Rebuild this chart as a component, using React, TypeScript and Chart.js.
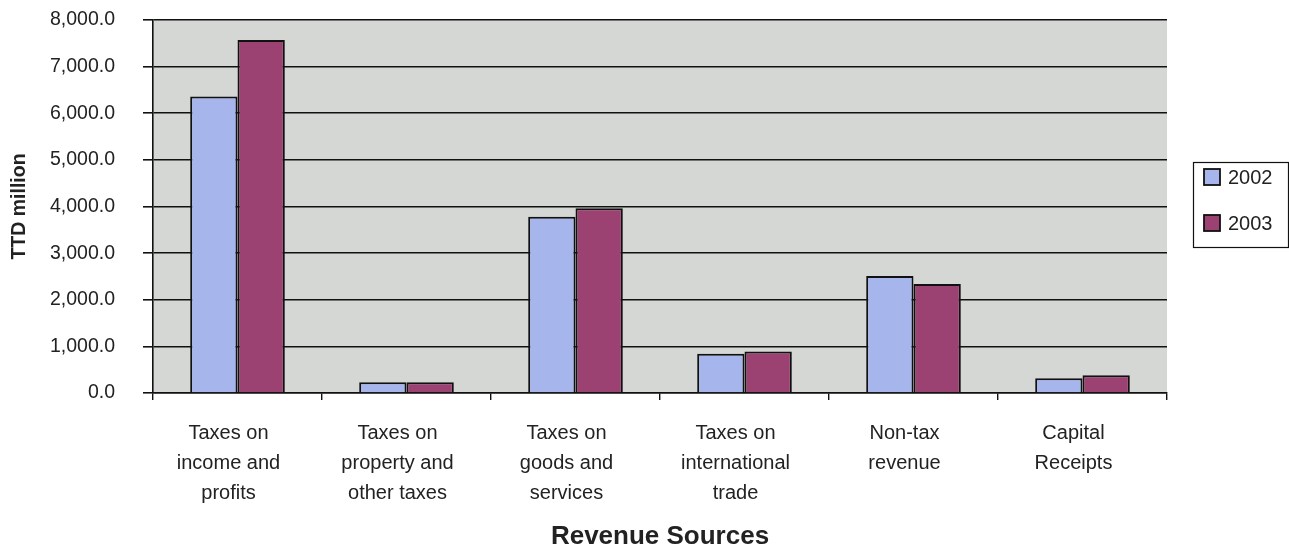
import React, { useEffect, useRef } from "react";
import { Chart, registerables } from "chart.js";

Chart.register(...registerables);

const categories: string[][] = [
  ["Taxes on", "income and", "profits"],
  ["Taxes on", "property and", "other taxes"],
  ["Taxes on", "goods and", "services"],
  ["Taxes on", "international", "trade"],
  ["Non-tax", "revenue"],
  ["Capital", "Receipts"],
];
const series2002: number[] = [6360, 230, 3780, 840, 2510, 315];
const series2003: number[] = [7570, 230, 3960, 890, 2340, 380];
const seriesLabels: string[] = ["2002", "2003"];
const yTitle = "TTD million";
const xTitle = "Revenue Sources";

const FONT = "'Liberation Sans', Arial, sans-serif";

const bgPlugin = {
  id: "plotBg",
  beforeDraw(chart: any) {
    const { ctx, chartArea } = chart;
    ctx.save();
    ctx.fillStyle = "#d5d7d5";
    ctx.fillRect(chartArea.left, chartArea.top, chartArea.right - chartArea.left, chartArea.bottom - chartArea.top);
    ctx.restore();
  },
};

const legendPlugin = {
  id: "boxLegend",
  afterDraw(chart: any) {
    const { ctx } = chart;
    const x0 = 1193, y0 = 162, w = 95, h = 85;
    ctx.save();
    ctx.fillStyle = "#ffffff";
    ctx.fillRect(x0, y0, w, h);
    ctx.strokeStyle = "#111111";
    ctx.lineWidth = 1.2;
    ctx.strokeRect(x0 + 0.5, y0 + 0.5, w, h);
    chart.data.datasets.forEach((ds: any, i: number) => {
      const cy = 177 + i * 46;
      ctx.fillStyle = ds.backgroundColor;
      ctx.fillRect(1204, cy - 8, 16, 16);
      ctx.strokeStyle = "#111111";
      ctx.lineWidth = 1.8;
      ctx.strokeRect(1204, cy - 8, 16, 16);
      ctx.fillStyle = "#222222";
      ctx.font = "20px " + FONT;
      ctx.textBaseline = "middle";
      ctx.textAlign = "left";
      ctx.fillText(ds.label, 1228, cy + 1);
    });
    ctx.restore();
  },
};

export default function App() {
  const ref = useRef<HTMLCanvasElement | null>(null);
  useEffect(() => {
    if (!ref.current) return;
    const chart = new Chart(ref.current, {
      type: "bar",
      data: {
        labels: categories,
        datasets: [
          {
            label: seriesLabels[0],
            data: series2002,
            backgroundColor: "#a6b6ec",
            borderColor: "#111111",
            borderWidth: 2,
          },
          {
            label: seriesLabels[1],
            data: series2003,
            backgroundColor: "#9b4272",
            borderColor: "#111111",
            borderWidth: 2,
          },
        ],
      },
      options: {
        animation: false,
        responsive: false,
        maintainAspectRatio: false,
        layout: { padding: { top: 20, right: 122, left: 0, bottom: 0 } },
        datasets: { bar: { barPercentage: 1, categoryPercentage: 0.56 } },
        plugins: {
          legend: { display: false },
          tooltip: { enabled: false },
        },
        scales: {
          x: {
            offset: true,
            afterFit(scale: any) {
              scale.height = 157;
              scale.paddingLeft = 0;
              scale.paddingRight = 0;
            },
            grid: { offset: true, drawOnChartArea: false, drawTicks: true, tickLength: 7, color: "#111111", lineWidth: 1.4 },
            border: { display: true, color: "#111111", width: 1.6 },
            ticks: {
              color: "#222222",
              font: { family: FONT, size: 20, lineHeight: 1.48 },
              padding: 19,
              labelOffset: -9,
              maxRotation: 0,
              autoSkip: false,
            },
            title: {
              display: true,
              text: xTitle,
              color: "#222222",
              font: { family: FONT, size: 26, weight: "bold", lineHeight: 1.0 },
              padding: { top: 6, bottom: 0 },
            },
          },
          y: {
            min: 0,
            max: 8000,
            afterFit(scale: any) {
              scale.width = 153;
              scale.paddingTop = 0;
              scale.paddingBottom = 0;
            },
            grid: { color: "#111111", lineWidth: 1.6, tickLength: 10, drawTicks: true },
            border: { display: true, color: "#111111", width: 1.6 },
            ticks: {
              stepSize: 1000,
              color: "#222222",
              font: { family: FONT, size: 19.5 },
              padding: 28,
              callback: (v: any) =>
                Number(v).toLocaleString("en-US", { minimumFractionDigits: 1, maximumFractionDigits: 1 }),
            },
            title: {
              display: true,
              text: yTitle,
              color: "#222222",
              font: { family: FONT, size: 19.5, weight: "bold" },
              padding: { top: 8, bottom: 0 },
            },
          },
        },
      },
      plugins: [bgPlugin, legendPlugin],
    });
    return () => chart.destroy();
  }, []);
  return (
    <div style={{ position: "fixed", left: 0, top: 0, width: 1289, height: 550, background: "#ffffff" }}>
      <canvas ref={ref} width={1289} height={550} style={{ width: 1289, height: 550, display: "block" }} />
    </div>
  );
}
